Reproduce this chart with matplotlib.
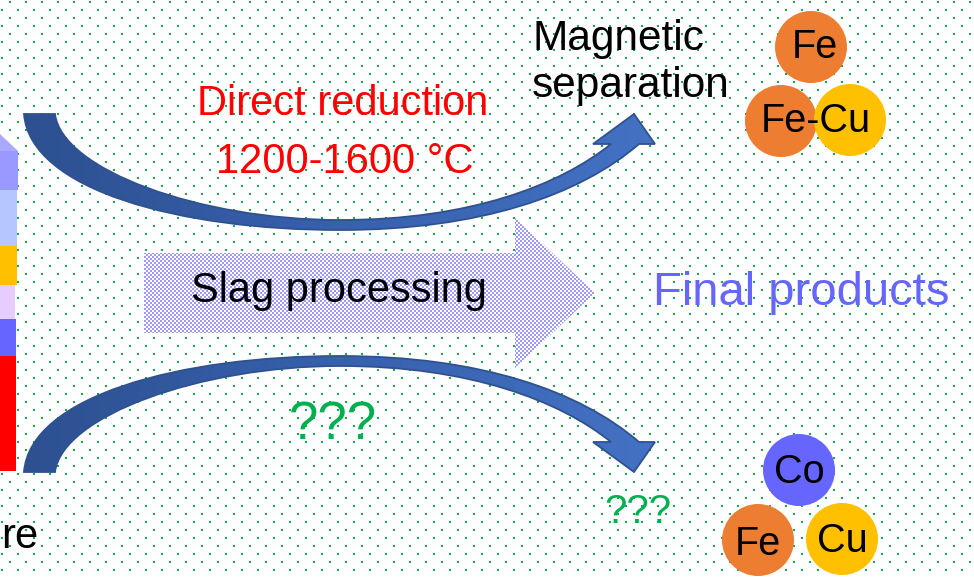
import numpy as np
import matplotlib
matplotlib.use("Agg")
import matplotlib.pyplot as plt
from matplotlib.path import Path
from matplotlib.patches import PathPatch, Circle, Polygon
from matplotlib.colors import LinearSegmentedColormap, to_rgb

plt.rcParams['font.family'] = ['Liberation Sans', 'DejaVu Sans']

W, H = 974, 577

# left stacked bar, cut off by the left edge
bar_tops = [151, 190, 246, 285, 319, 356]
bar_bottoms = [190, 246, 285, 319, 356, 471]
bar_widths = [18, 17, 17, 15, 16, 16]
bar_colors = ['#9999FF', '#B4C7FF', '#FFC000', '#E6CCFF', '#6666FF', '#FF0000']

# element circles
circle_x = [811, 781, 850, 799, 758, 842]
circle_y = [47, 121, 120, 470, 540, 539]
circle_colors = ['#ED7D31', '#ED7D31', '#FFC000', '#6666FF', '#ED7D31', '#FFC000']
circle_r = 36

circle_labels = ['Fe', 'Fe-Cu', 'Co', 'Fe', 'Cu']
label_x = [815, 816, 799, 758, 842]
label_y = [58, 132, 483, 555, 552]

# curved arrow (upper one; the lower one is its mirror image)
inner_edge = [(55, 114), (62, 170), (200, 220), (340, 220), (470, 220), (560, 185), (611, 144)]
outer_edge = [(24, 114), (30, 190), (180, 230), (340, 230), (480, 230), (580, 195), (639, 144)]
head_pts = [(593, 144), (634, 114), (655, 144)]
mirror_y = 586

# straight "Slag processing" arrow
big_arrow = [(144, 253), (515, 253), (515, 218), (595, 293), (515, 368), (515, 333), (144, 333)]


def arrow_path(flip=False):
    def f(p):
        return (p[0], mirror_y - p[1]) if flip else p
    verts = [f(outer_edge[0]), f(inner_edge[0])]
    codes = [Path.MOVETO, Path.LINETO]
    verts += [f(p) for p in inner_edge[1:]]
    codes += [Path.CURVE4] * 6
    verts += [f(p) for p in head_pts] + [f(outer_edge[-1])]
    codes += [Path.LINETO] * 4
    verts += [f(p) for p in outer_edge[-2::-1]]
    codes += [Path.CURVE4] * 6
    verts.append(f(outer_edge[0]))
    codes.append(Path.CLOSEPOLY)
    return Path(verts, codes)


fig = plt.figure(figsize=(W / 100, H / 100), dpi=100)
ax = fig.add_axes([0, 0, 1, 1])
ax.set_xlim(0, W)
ax.set_ylim(H, 0)
ax.axis('off')

# dotted background
dx, dy = [], []
for k, yy in enumerate(np.arange(1.5, H, 8)):
    x0 = 9.5 if k % 2 == 0 else 1.5
    for xx in np.arange(x0, W, 16):
        dx.append(xx)
        dy.append(yy)
ax.scatter(dx, dy, s=2.1, marker='s', color='#00B050', linewidths=0, zorder=0)

# stacked bar
heights = [b - t for t, b in zip(bar_tops, bar_bottoms)]
ax.bar([w / 2 for w in bar_widths], heights, width=bar_widths, bottom=bar_tops,
       color=bar_colors, linewidth=0, zorder=2)
ax.add_patch(Polygon([(0, 134), (18, 151), (0, 151)], closed=True,
                     facecolor='#ABA9FF', linewidth=0, zorder=2))

# checkered big arrow
bx0, bx1, by0, by1 = 144, 596, 218, 368
ii, jj = np.mgrid[0:by1 - by0, 0:bx1 - bx0]
checks = ((ii // 2 + jj // 2) % 2).astype(bool)
img = np.ones((by1 - by0, bx1 - bx0, 3))
img[checks] = to_rgb('#9C9AF5')
big_patch = Polygon(big_arrow, closed=True, facecolor='none', edgecolor='none', zorder=2)
ax.add_patch(big_patch)
im = ax.imshow(img, extent=(bx0, bx1, by1, by0), interpolation='nearest',
               aspect='auto', zorder=2)
im.set_clip_path(big_patch)

# curved arrows with a left-to-right shade
cmap = LinearSegmentedColormap.from_list('arr', ['#2C4F8E', '#3760AD', '#4472C4'])
grad = np.linspace(0, 1, 256).reshape(1, -1)
for flip in [False, True]:
    p = arrow_path(flip)
    patch = PathPatch(p, facecolor='none', edgecolor='none', zorder=3)
    ax.add_patch(patch)
    g = ax.imshow(grad, extent=(0, 660, 490, 90), cmap=cmap, aspect='auto', zorder=3)
    g.set_clip_path(patch)
    ax.add_patch(PathPatch(p, facecolor='none', edgecolor='#2F528F', linewidth=1.3, zorder=4))

ax.set_xlim(0, W)
ax.set_ylim(H, 0)

# circles
for cx, cy, c in zip(circle_x, circle_y, circle_colors):
    ax.add_patch(Circle((cx, cy), circle_r, facecolor=c, edgecolor='none', zorder=5))
for lab, lx, ly in zip(circle_labels, label_x, label_y):
    ax.text(lx, ly, lab, fontsize=28.5, ha='center', va='baseline', color='black', zorder=6)

# texts
ax.text(532, 50, 'Magnetic', fontsize=30.5, ha='left', va='baseline', color='black')
ax.text(532, 97, 'separation', fontsize=30.5, ha='left', va='baseline', color='black')
ax.text(343, 115, 'Direct reduction', fontsize=30, ha='center', va='baseline', color='#FF0000')
ax.text(345, 173, '1200-1600 °C', fontsize=30, ha='center', va='baseline', color='#FF0000')
ax.text(339, 302, 'Slag processing', fontsize=30, ha='center', va='baseline', color='black', zorder=6)
ax.text(801, 305, 'Final products', fontsize=34, ha='center', va='baseline', color='#6666FF')
ax.text(333, 439, '???', fontsize=38, ha='center', va='baseline', color='#00B050')
ax.text(638, 523, '???', fontsize=29, ha='center', va='baseline', color='#00B050')
ax.text(1, 548, 're', fontsize=30, ha='left', va='baseline', color='black')

fig.savefig('out.png', dpi=100)
